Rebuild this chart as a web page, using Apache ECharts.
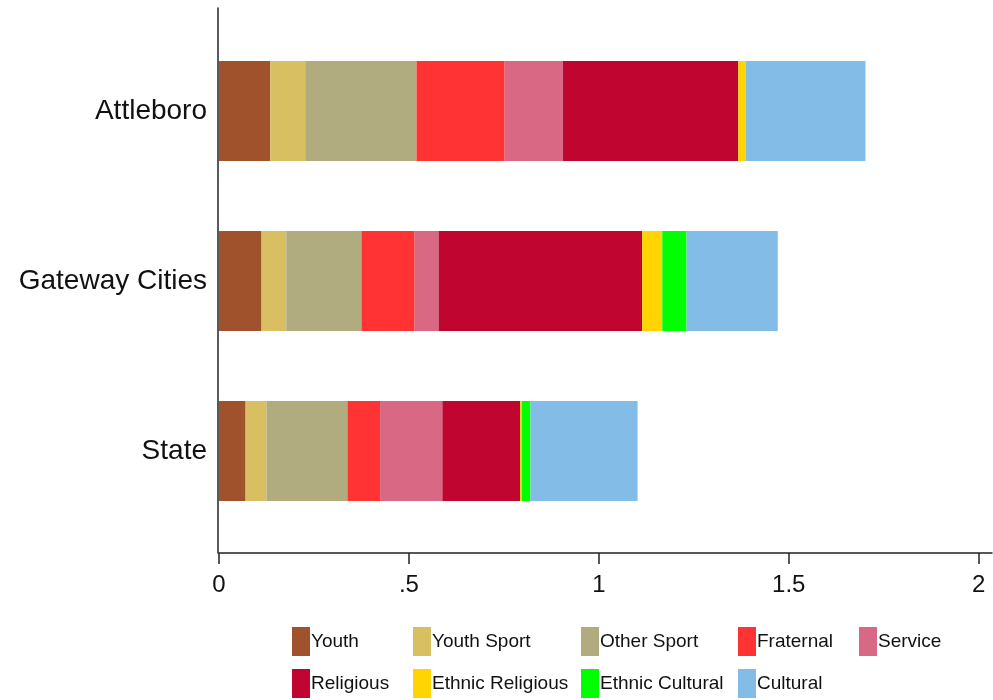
<!DOCTYPE html>
<html>
<head>
<meta charset="utf-8">
<script src="https://cdn.jsdelivr.net/npm/echarts@6/dist/echarts.min.js"></script>
<style>
html,body{margin:0;padding:0;background:#fff;}
#chart{width:993px;height:700px;}
</style>
</head>
<body>
<div id="chart"></div>
<script>
// ---- data ----
const categories = ['Attleboro', 'Gateway Cities', 'State'];
const youth           = [0.135, 0.112, 0.070];
const youthSport      = [0.092, 0.065, 0.055];
const otherSport      = [0.293, 0.198, 0.213];
const fraternal       = [0.232, 0.140, 0.086];
const service         = [0.153, 0.063, 0.164];
const religious       = [0.462, 0.536, 0.205];
const ethnicReligious = [0.020, 0.053, 0.004];
const ethnicCultural  = [0.000, 0.064, 0.023];
const cultural        = [0.315, 0.240, 0.282];
const xTicks = [0, 0.5, 1, 1.5, 2];

const seriesNames = ['Youth', 'Youth Sport', 'Other Sport', 'Fraternal', 'Service',
  'Religious', 'Ethnic Religious', 'Ethnic Cultural', 'Cultural'];
const seriesData = [youth, youthSport, otherSport, fraternal, service,
  religious, ethnicReligious, ethnicCultural, cultural];
const colors = ['#A0522D', '#D8C062', '#B0AC80', '#FF3333', '#D86884',
  '#C00530', '#FFD400', '#00FF00', '#84BCE8'];

const legendCols = [
  ['Youth', 'Religious'],
  ['Youth Sport', 'Ethnic Religious'],
  ['Other Sport', 'Ethnic Cultural'],
  ['Fraternal', 'Cultural'],
  ['Service']
];
const legendLefts = [292, 413, 581, 738, 859];

const chart = echarts.init(document.getElementById('chart'), null, {renderer: 'canvas'});

const font = 'Arial, "Liberation Sans", sans-serif';

const option = {
  animation: false,
  backgroundColor: '#fff',
  color: colors,
  grid: [
    {left: 219, right: 1, top: 26, bottom: 164, containLabel: false},
    {left: 218, width: 10, top: 8, bottom: 147, containLabel: false}
  ],
  xAxis: [
    {
      type: 'value', gridIndex: 0, min: 0, max: 2.035, interval: 0.5,
      offset: 17,
      axisLine: {show: true, lineStyle: {color: '#222', width: 1.5}},
      axisTick: {show: true, length: 11, lineStyle: {color: '#222', width: 1.5}, customValues: xTicks},
      axisLabel: {
        customValues: xTicks,
        fontFamily: font, fontSize: 24, color: '#111', margin: 20,
        formatter: v => String(v).replace(/^0\./, '.')
      },
      splitLine: {show: false}
    },
    {type: 'value', gridIndex: 1, show: false}
  ],
  yAxis: [
    {
      type: 'category', gridIndex: 0, data: categories, inverse: true,
      axisLine: {show: false}, axisTick: {show: false},
      axisLabel: {fontFamily: font, fontSize: 28, color: '#111', margin: 12}
    },
    {
      type: 'value', gridIndex: 1, min: 0, max: 1,
      axisLine: {show: true, lineStyle: {color: '#222', width: 1.5}},
      axisTick: {show: false}, axisLabel: {show: false}, splitLine: {show: false}
    }
  ],
  legend: legendCols.map((items, i) => ({
    data: items,
    orient: 'vertical',
    left: legendLefts[i],
    top: 627,
    padding: 0,
    itemGap: 13,
    itemWidth: 18,
    itemHeight: 29,
    icon: 'rect',
    selectedMode: false,
    textStyle: {fontFamily: font, fontSize: 19, color: '#111', padding: [0, 0, 0, -4]}
  })),
  series: seriesNames.map((name, i) => ({
    name: name,
    type: 'bar',
    stack: 'total',
    xAxisIndex: 0,
    yAxisIndex: 0,
    barWidth: 100,
    data: seriesData[i],
    itemStyle: {color: colors[i]},
    emphasis: {disabled: true}
  }))
};

chart.setOption(option);
</script>
</body>
</html>
